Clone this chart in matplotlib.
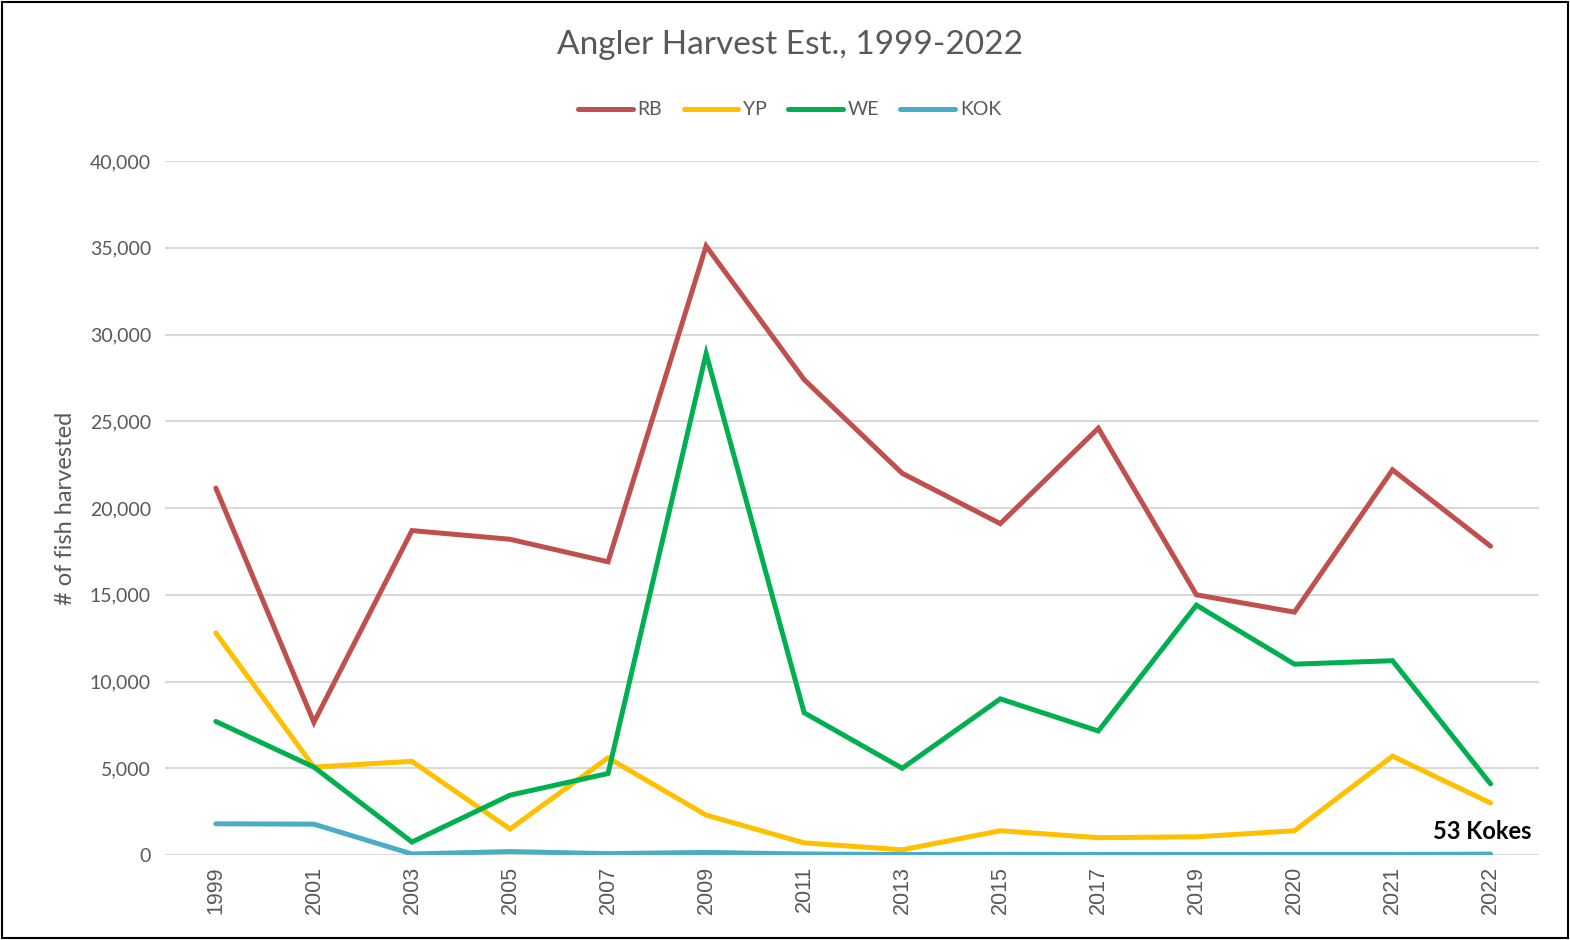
import matplotlib.pyplot as plt
from matplotlib.patches import Rectangle

years = ["1999", "2001", "2003", "2005", "2007", "2009", "2011",
         "2013", "2015", "2017", "2019", "2020", "2021", "2022"]
rb = [21150, 7650, 18700, 18200, 16900, 35100, 27400,
      22000, 19100, 24600, 15000, 14000, 22200, 17800]
yp = [12800, 5070, 5400, 1500, 5600, 2300, 700,
      300, 1400, 1000, 1050, 1400, 5700, 3000]
we = [7700, 5070, 750, 3450, 4700, 28900, 8200,
      5000, 9000, 7150, 14400, 11000, 11200, 4100]
kok = [1800, 1780, 60, 200, 80, 150, 60,
       30, 40, 30, 30, 30, 30, 53]

series = [("RB", rb, "#C0504D"), ("YP", yp, "#FFC000"),
          ("WE", we, "#00B050"), ("KOK", kok, "#4BACC6")]

plt.rcParams['font.family'] = ['Lato', 'DejaVu Sans']
grey = "#595959"

fig = plt.figure(figsize=(15.7, 9.4), dpi=100)
ax = fig.add_axes([0.105, 0.0904, 0.875, 0.7383])

x = range(len(years))
for name, vals, col in series:
    ax.plot(x, vals, color=col, lw=3.6, label=name, solid_capstyle='round',
            solid_joinstyle='miter')

ax.set_xlim(-0.52, 13.49)
ax.set_ylim(0, 40000)
ax.set_yticks(range(0, 40001, 5000))
ax.set_yticklabels([f"{v:,}" for v in range(0, 40001, 5000)])
ax.set_xticks(list(x))
ax.set_xticklabels(years, rotation=90, family=['Liberation Sans', 'DejaVu Sans'])
ax.tick_params(axis='both', length=0, labelsize=14, colors=grey)
ax.tick_params(axis='x', pad=8, labelsize=15.5)
ax.tick_params(axis='y', pad=10)
ax.grid(axis='y', color="#D9D9D9", lw=1.5)
ax.set_axisbelow(True)
for s in ax.spines.values():
    s.set_visible(False)

ax.set_ylabel("# of fish harvested", fontsize=17, color=grey, labelpad=10)

fig.text(0.5035, 0.952, "Angler Harvest Est., 1999-2022",
         ha='center', va='center', fontsize=24, color=grey)

fig.legend(loc='center', bbox_to_anchor=(0.503, 0.883), ncol=4, frameon=False,
           fontsize=14, handlelength=2.8, handletextpad=0.25, columnspacing=1.1,
           labelcolor=grey)

ax.text(13.42, 1330, "53 Kokes", ha='right', va='center', fontsize=17,
        fontweight='bold', color='black')

fig.patches.append(Rectangle((0.001, 0.002), 0.998, 0.996, transform=fig.transFigure,
                             fill=False, edgecolor='black', lw=1.5))

fig.savefig("out.png", dpi=100)
